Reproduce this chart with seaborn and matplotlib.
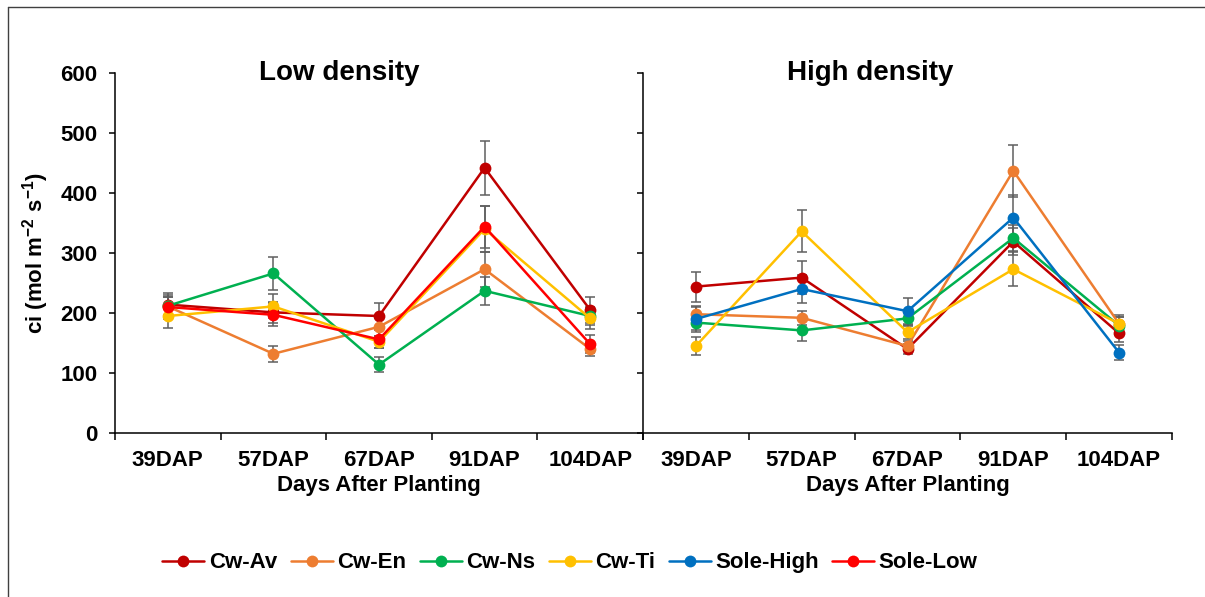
import numpy as np
import pandas as pd
import seaborn as sns
import matplotlib.pyplot as plt
from matplotlib.lines import Line2D

# data
days = ['39DAP', '57DAP', '67DAP', '91DAP', '104DAP']
treatments = ['Cw-Av', 'Cw-En', 'Cw-Ns', 'Cw-Ti', 'Sole-High', 'Sole-Low']
colors = ['#C00000', '#ED7D31', '#00B050', '#FFC000', '#0070C0', '#FF0000']

# low density
low_cw_av = [214, 201, 195, 442, 205]
low_cw_en = [211, 132, 177, 273, 140]
low_cw_ns = [212, 266, 114, 237, 195]
low_cw_ti = [195, 211, 152, 340, 191]
low_sole_low = [210, 197, 156, 344, 148]
low_err_av = [20, 18, 21, 45, 21]
low_err_en = [15, 13, 15, 29, 12]
low_err_ns = [15, 28, 12, 23, 15]
low_err_ti = [20, 20, 10, 38, 18]
low_err_sole = [20, 19, 15, 35, 15]

# high density
high_cw_av = [244, 259, 140, 319, 166]
high_cw_en = [198, 192, 145, 437, 182]
high_cw_ns = [184, 171, 191, 325, 179]
high_cw_ti = [145, 336, 168, 273, 182]
high_sole_high = [190, 240, 203, 359, 134]
high_err_av = [25, 28, 8, 22, 15]
high_err_en = [12, 12, 8, 43, 12]
high_err_ns = [12, 17, 12, 22, 15]
high_err_ti = [15, 35, 12, 28, 15]
high_err_sole = [22, 24, 22, 37, 12]


def long_table(series):
    rows = []
    for name, vals, errs in series:
        for d, v, e in zip(days, vals, errs):
            rows.append({'day': d, 'ci': v, 'err': e, 'treatment': name})
    return pd.DataFrame(rows)


df_low = long_table([
    ('Cw-Av', low_cw_av, low_err_av),
    ('Cw-En', low_cw_en, low_err_en),
    ('Cw-Ns', low_cw_ns, low_err_ns),
    ('Cw-Ti', low_cw_ti, low_err_ti),
    ('Sole-Low', low_sole_low, low_err_sole),
])
df_high = long_table([
    ('Cw-Av', high_cw_av, high_err_av),
    ('Cw-En', high_cw_en, high_err_en),
    ('Cw-Ns', high_cw_ns, high_err_ns),
    ('Cw-Ti', high_cw_ti, high_err_ti),
    ('Sole-High', high_sole_high, high_err_sole),
])

palette = dict(zip(treatments, colors))

sns.set_theme(style='ticks')
plt.rcParams['font.family'] = ['Liberation Sans', 'DejaVu Sans']
plt.rcParams['font.weight'] = 'bold'
plt.rcParams['text.color'] = 'black'
plt.rcParams['axes.labelcolor'] = 'black'
plt.rcParams['xtick.color'] = 'black'
plt.rcParams['ytick.color'] = 'black'
plt.rcParams['mathtext.fontset'] = 'custom'
plt.rcParams['mathtext.rm'] = 'Liberation Sans:bold'
plt.rcParams['mathtext.it'] = 'Liberation Sans:bold'
plt.rcParams['mathtext.default'] = 'rm'

fig = plt.figure(figsize=(12.05, 5.97), dpi=100)
W, H = 1205, 597
ax1 = fig.add_axes([115 / W, (H - 433) / H, 528 / W, 360 / H])
ax2 = fig.add_axes([643 / W, (H - 433) / H, 529 / W, 360 / H])

for ax, df, title, tx in [(ax1, df_low, 'Low density', 0.424),
                          (ax2, df_high, 'High density', 0.429)]:
    x = np.arange(len(days))
    for name, grp in df.groupby('treatment', sort=False):
        ax.errorbar(x, grp['ci'].values, yerr=grp['err'].values, fmt='none',
                    ecolor='#5f5f5f', elinewidth=1.1, capsize=3.5,
                    capthick=1.1, zorder=1.5)
    sns.lineplot(data=df, x='day', y='ci', hue='treatment', palette=palette,
                 marker='o', markersize=8.5, markeredgewidth=0, linewidth=1.8,
                 errorbar=None, sort=False, legend=False, ax=ax)

    ax.set_xlim(-0.5, 4.5)
    ax.set_ylim(0, 600)
    ax.set_yticks(np.arange(0, 601, 100))
    ax.set_xticks(x)
    ax.set_xticklabels(days, fontsize=16, fontweight='bold')
    ax.set_xticks(np.arange(-0.5, 5, 1), minor=True)
    ax.tick_params(axis='x', which='major', length=0, pad=12)
    ax.tick_params(axis='x', which='minor', length=5, width=1.1,
                   direction='out', color='black')
    ax.tick_params(axis='y', length=4.5, width=1.1, direction='out',
                   color='black', pad=8, labelsize=16)
    ax.set_xlabel('Days After Planting', fontsize=16, fontweight='bold',
                  labelpad=3)
    ax.text(tx, 1.0, title, transform=ax.transAxes, ha='center', va='center',
            fontsize=20, fontweight='bold')
    for side in ['top', 'right']:
        ax.spines[side].set_visible(False)
    for side in ['left', 'bottom']:
        ax.spines[side].set_linewidth(1.1)
        ax.spines[side].set_color('black')

ax1.set_ylabel('ci (mol m$^{-2}$ s$^{-1}$)', fontsize=16, fontweight='bold',
               labelpad=7)
for lab in ax1.get_yticklabels():
    lab.set_fontweight('bold')
ax2.set_ylabel('')
ax2.tick_params(axis='y', labelleft=False)

handles = [Line2D([], [], color=c, marker='o', markersize=8.5,
                  markeredgewidth=0, linewidth=1.8) for c in colors]
fig.legend(handles, treatments, loc='center', ncol=6, frameon=False,
           bbox_to_anchor=(0.473, 0.057), handlelength=1.9,
           handletextpad=0.2, columnspacing=0.6,
           prop={'weight': 'bold', 'size': 16})

# outer chart border (only left and top edges fall inside the image)
fig.add_artist(Line2D([8 / W, 8 / W], [0, 1 - 7 / H],
                      transform=fig.transFigure, color='#404040', linewidth=1.0))
fig.add_artist(Line2D([8 / W, 1], [1 - 7 / H, 1 - 7 / H],
                      transform=fig.transFigure, color='#404040', linewidth=1.0))

fig.savefig('out.png', dpi=100)
